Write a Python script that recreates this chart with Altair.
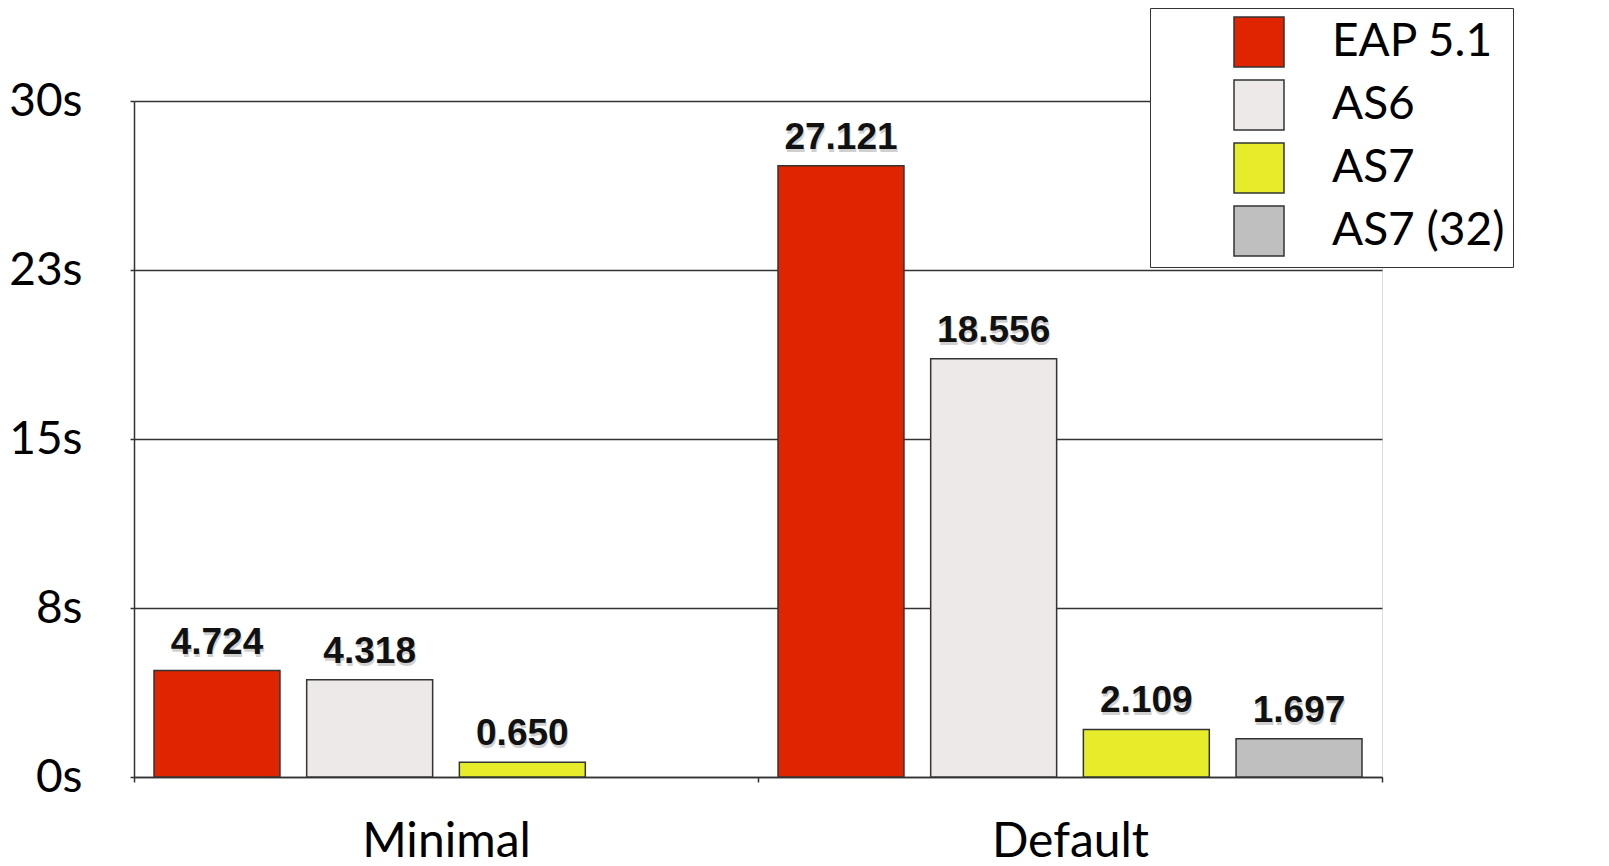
import altair as alt
import pandas as pd

categories = ["Minimal", "Default"]
series = ["EAP 5.1", "AS6", "AS7", "AS7 (32)"]
minimal_values = [4.724, 4.318, 0.650]
default_values = [27.121, 18.556, 2.109, 1.697]
colors = ["#E02400", "#EEE9E9", "#E6EB2A", "#BFBFBF"]
y_ticks = [0, 7.5, 15, 22.5, 30]

rows = []
for s, v in zip(series, minimal_values):
    rows.append({"group": "Minimal", "series": s, "value": v})
for s, v in zip(series, default_values):
    rows.append({"group": "Default", "series": s, "value": v})
df = pd.DataFrame(rows)

x_enc = alt.X(
    "group:N",
    sort=categories,
    scale=alt.Scale(paddingInner=0, paddingOuter=0),
    axis=alt.Axis(
        title=None, labelAngle=0, labelFont="Lato", labelFontSize=48,
        labelColor="black", labelPadding=36, tickBand="extent", tickSize=5,
        tickColor="#333", tickWidth=1.5, domainColor="#333", domainWidth=1.5,
        grid=False,
    ),
)
xoff_enc = alt.XOffset(
    "series:N",
    sort=series,
    scale=alt.Scale(domain=series, paddingInner=0.175, paddingOuter=0.131),
)
y_enc = alt.Y(
    "value:Q",
    scale=alt.Scale(domain=[0, 30], nice=False),
    axis=alt.Axis(
        title=None, values=y_ticks, labelExpr="round(datum.value) + 's'",
        labelFont="Lato", labelFontSize=46, labelColor="black", labelPadding=48,
        tickSize=4, tickColor="#333", tickWidth=1.5, domainColor="#333",
        domainWidth=1.5, grid=True, gridColor="#333", gridWidth=1.5,
    ),
)

base = alt.Chart(df).encode(x=x_enc, xOffset=xoff_enc, y=y_enc)

bars = base.mark_bar(stroke="#333", strokeWidth=1.5, opacity=1).encode(
    color=alt.Color(
        "series:N",
        sort=series,
        scale=alt.Scale(domain=series, range=colors),
        legend=alt.Legend(
            title=None, orient="none", legendX=1016, legendY=-93,
            symbolType="square", symbolSize=2500, symbolStrokeColor="#333",
            symbolStrokeWidth=1.5, symbolOpacity=1, symbolOffset=75,
            labelOffset=47, labelFont="Lato", labelFontSize=46,
            labelColor="black", labelLimit=400, rowPadding=7, padding=8,
            fillColor="white", strokeColor="#333",
        ),
    )
)

shadow = base.mark_text(
    font="Liberation Sans", fontWeight="bold", fontSize=37, color="#000",
    opacity=0.18, align="center", baseline="alphabetic", dy=-14, dx=1,
).encode(text=alt.Text("value:Q", format=".3f"))

labels = base.mark_text(
    font="Liberation Sans", fontWeight="bold", fontSize=37, color="#111",
    align="center", baseline="alphabetic", dy=-17,
).encode(text=alt.Text("value:Q", format=".3f"))

chart = (
    alt.layer(bars, shadow, labels)
    .properties(
        width=1248, height=676,
        autosize=alt.AutoSizeParams(type="none"),
        padding={"left": 126, "top": 93, "right": 218, "bottom": 89},
    )
    .configure_view(stroke=None)
    .configure(background="white")
)

chart.save("out.html", embed_options={"renderer": "svg", "actions": False})
